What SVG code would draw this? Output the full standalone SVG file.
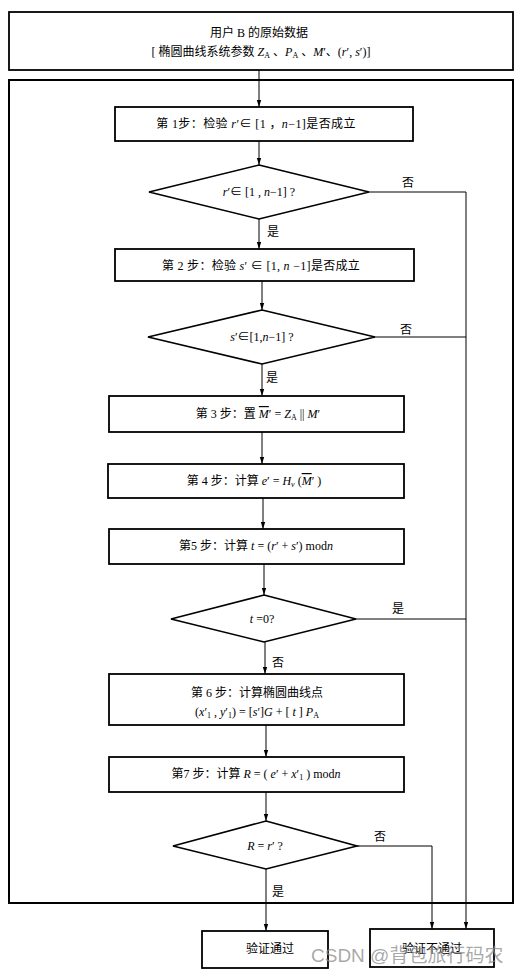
<svg xmlns="http://www.w3.org/2000/svg" width="518" height="974" viewBox="0 0 518 974">
<style>
.box{fill:#fff;stroke:#000;stroke-width:1.8}
.dia{fill:#fff;stroke:#000;stroke-width:1.6}
.ln{fill:none;stroke:#000;stroke-width:1}
text{font-family:"Liberation Serif","Noto Sans CJK SC",serif;font-size:12px;fill:#000}
.t{text-anchor:middle}
.i{font-style:italic}
.s{font-size:8px}
.wm{font-family:"Liberation Sans","Noto Sans CJK SC",sans-serif;font-size:19px;fill:#8c8c8c;fill-opacity:0.75}
</style>
<defs>
<marker id="ah" markerWidth="8" markerHeight="8" refX="7" refY="4" orient="auto" markerUnits="userSpaceOnUse">
<path d="M0,1.8 L7,4 L0,6.2 Z" fill="#000"/>
</marker>
</defs>
<rect x="0" y="0" width="518" height="974" fill="#fff"/>
<g id="outer"><rect x="9" y="80" width="504" height="823" fill="none" stroke="#000" stroke-width="2"/></g>
<g id="connectors">
<line class="ln" x1="259" y1="70" x2="259" y2="107" marker-end="url(#ah)"/>
<line class="ln" x1="259" y1="141" x2="259" y2="165" marker-end="url(#ah)"/>
<line class="ln" x1="259" y1="219" x2="259" y2="249" marker-end="url(#ah)"/>
<line class="ln" x1="262" y1="281" x2="262" y2="310" marker-end="url(#ah)"/>
<line class="ln" x1="262" y1="364" x2="262" y2="396" marker-end="url(#ah)"/>
<line class="ln" x1="262" y1="432" x2="262" y2="464" marker-end="url(#ah)"/>
<line class="ln" x1="263" y1="498" x2="263" y2="529" marker-end="url(#ah)"/>
<line class="ln" x1="264" y1="564" x2="264" y2="595" marker-end="url(#ah)"/>
<line class="ln" x1="265" y1="642" x2="265" y2="674" marker-end="url(#ah)"/>
<line class="ln" x1="266" y1="725" x2="266" y2="757" marker-end="url(#ah)"/>
<line class="ln" x1="266" y1="792" x2="266" y2="821" marker-end="url(#ah)"/>
<line class="ln" x1="266" y1="869" x2="266" y2="931" marker-end="url(#ah)"/>
<polyline class="ln" points="369,192 466,192 466,929" marker-end="url(#ah)"/>
<line class="ln" x1="375" y1="337" x2="466" y2="337"/>
<line class="ln" x1="356" y1="619" x2="466" y2="619"/>
<polyline class="ln" points="357,846 432,846 432,929" marker-end="url(#ah)"/>
<text x="408" y="187" class="t">否</text>
<text x="273" y="236" class="t">是</text>
<text x="406" y="334" class="t">否</text>
<text x="272" y="382" class="t">是</text>
<text x="398" y="613" class="t">是</text>
<text x="278" y="667" class="t">否</text>
<text x="380" y="841" class="t">否</text>
<text x="278" y="896" class="t">是</text>
</g>
<g id="start">
<rect class="box" x="9" y="12" width="504" height="58"/>
<text x="259" y="37" class="t">用户 B 的原始数据</text>
<text x="261" y="56" class="t">[ 椭圆曲线系统参数 <tspan class="i">Z</tspan><tspan class="s" dy="2">A</tspan><tspan dy="-2"> 、</tspan><tspan class="i">P</tspan><tspan class="s" dy="2">A</tspan><tspan dy="-2"> 、</tspan><tspan class="i">M</tspan>′、(<tspan class="i">r</tspan>′, <tspan class="i">s</tspan>′)]</text>
</g>
<g id="step1">
<rect class="box" x="115" y="107" width="298" height="34"/>
<text x="256" y="128" class="t" letter-spacing="0.4">第 1步：检验 <tspan class="i">r</tspan>′∈ [1 ，<tspan class="i">n</tspan>−1]是否成立</text>
</g>
<g id="check1">
<polygon class="dia" points="259,165 369,192 259,219 149,192"/>
<text x="259" y="196" class="t"><tspan class="i">r</tspan>′∈ [1 , <tspan class="i">n</tspan>−1] ?</text>
</g>
<g id="step2">
<rect class="box" x="115" y="249" width="299" height="32"/>
<text x="261" y="270" class="t" letter-spacing="0.3">第 2 步：检验 <tspan class="i">s</tspan>′ ∈ [1, <tspan class="i">n</tspan> −1]是否成立</text>
</g>
<g id="check2">
<polygon class="dia" points="262,310 375,337 262,364 148,337"/>
<text x="262" y="341" class="t"><tspan class="i">s</tspan>′∈[1,<tspan class="i">n</tspan>−1] ?</text>
</g>
<g id="step3">
<rect class="box" x="109" y="396" width="295" height="36"/>
<text x="258" y="418" class="t">第 3 步：置  <tspan class="i" text-decoration="overline">M</tspan>′ = <tspan class="i">Z</tspan><tspan class="s" dy="2">A</tspan><tspan dy="-2"> || </tspan><tspan class="i">M</tspan>′</text>
</g>
<g id="step4">
<rect class="box" x="108" y="464" width="296" height="34"/>
<text x="254" y="485" class="t">第 4 步：计算  <tspan class="i">e</tspan>′ = <tspan class="i">H</tspan><tspan class="s i" dy="2">v</tspan><tspan dy="-2"> (</tspan><tspan class="i" text-decoration="overline">M</tspan>′ )</text>
</g>
<g id="step5">
<rect class="box" x="109" y="529" width="295" height="35"/>
<text x="256" y="550" class="t">第5 步：计算 <tspan class="i">t</tspan> = (<tspan class="i">r</tspan>′ + <tspan class="i">s</tspan>′) mod<tspan class="i">n</tspan></text>
</g>
<g id="check3">
<polygon class="dia" points="264,595 356,619 264,642 171,619"/>
<text x="262" y="623" class="t"><tspan class="i">t</tspan> =0?</text>
</g>
<g id="step6">
<rect class="box" x="109" y="674" width="295" height="51"/>
<text x="257" y="697" class="t">第 6 步：计算椭圆曲线点</text>
<text x="257" y="716" class="t">(<tspan class="i">x</tspan>′<tspan class="s" dy="2">1</tspan><tspan dy="-2"> , </tspan><tspan class="i">y</tspan>′<tspan class="s" dy="2">1</tspan><tspan dy="-2">) = [</tspan><tspan class="i">s</tspan>′]<tspan class="i">G</tspan> + [ <tspan class="i">t</tspan> ] <tspan class="i">P</tspan><tspan class="s" dy="2">A</tspan></text>
</g>
<g id="step7">
<rect class="box" x="109" y="757" width="295" height="35"/>
<text x="256" y="778" class="t">第7 步：计算 <tspan class="i">R</tspan> = ( <tspan class="i">e</tspan>′ + <tspan class="i">x</tspan>′<tspan class="s" dy="2">1</tspan><tspan dy="-2"> ) mod</tspan><tspan class="i">n</tspan></text>
</g>
<g id="check4">
<polygon class="dia" points="266,821 357,846 266,869 173,846"/>
<text x="265" y="850" class="t"><tspan class="i">R</tspan> = <tspan class="i">r</tspan>′ ?</text>
</g>
<g id="pass">
<rect class="box" x="202" y="931" width="126" height="37"/>
<text x="270" y="953" class="t">验证通过</text>
</g>
<g id="fail">
<rect class="box" x="370" y="929" width="124" height="38"/>
<text x="432" y="953" class="t">验证不通过</text>
</g>
<text x="311" y="962" class="wm">CSDN @背包旅行码农</text>
</svg>
